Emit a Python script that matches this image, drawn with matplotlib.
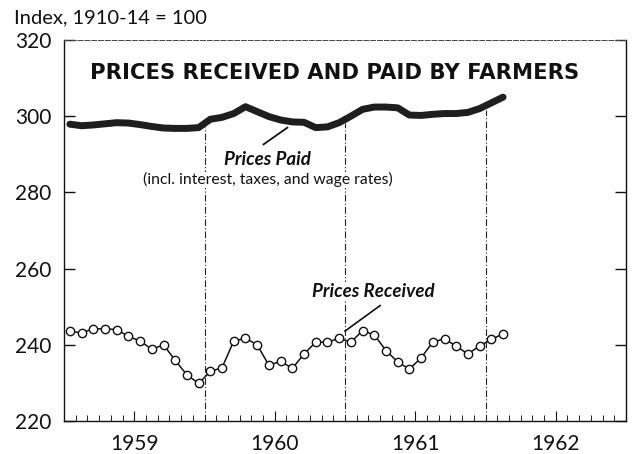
import numpy as np
import matplotlib
matplotlib.use("Agg")
import matplotlib.pyplot as plt
from matplotlib.ticker import FixedLocator

# ---- data (monthly, Jan 1959 - Feb 1962) ----
start_year = 1959
prices_paid = [297.9, 297.5, 297.7, 298.0, 298.3, 298.2, 297.8, 297.3, 296.9, 296.8, 296.8, 297.0,
               299.2, 299.7, 300.7, 302.5, 301.2, 299.9, 299.0, 298.5, 298.4, 297.0, 297.2, 298.3,
               300.0, 301.8, 302.4, 302.4, 302.2, 300.3, 300.2, 300.5, 300.7, 300.7, 301.0, 302.0,
               303.5, 305.0]
prices_received = [243.6, 243.1, 244.2, 244.2, 244.0, 242.2, 241.0, 238.8, 240.0, 235.9, 232.1, 229.9,
                   233.0, 234.0, 241.0, 241.7, 240.0, 234.6, 235.7, 233.8, 237.6, 240.7, 240.7, 241.7,
                   240.7, 243.7, 242.6, 238.5, 235.5, 233.6, 236.6, 240.7, 241.6, 239.6, 237.6, 239.7,
                   241.4, 242.9]
years = [1959, 1960, 1961, 1962]
y_ticks = [220, 240, 260, 280, 300, 320]

t_paid = start_year + (np.arange(len(prices_paid)) + 0.5) / 12
t_recv = start_year + (np.arange(len(prices_received)) + 0.5) / 12

plt.rcParams['font.family'] = ['Lato', 'DejaVu Sans']

fig = plt.figure(figsize=(6.34, 4.54), dpi=100)
ax = fig.add_axes([64/634, 1 - 421/454, (626-64)/634, (421-40)/454])

ax.set_xlim(years[0], years[-1] + 1)
ax.set_ylim(220, 320)

# year boundary dash-dot lines
for b in years[1:]:
    top = np.interp(b, t_paid, prices_paid) - 1.0
    ax.vlines(b, 220, top, colors='#222222', linestyles=(0, (6, 2, 1, 2)), linewidth=0.8, zorder=1)

# prices paid - heavy line
ax.plot(t_paid, prices_paid, color='#1e1e1e', linewidth=5.0, solid_capstyle='round',
        solid_joinstyle='round', zorder=3)

# prices received - open circles
ax.plot(t_recv, prices_received, color='#111111', linewidth=1.1, marker='o', markersize=6,
        markerfacecolor='white', markeredgecolor='#111111', markeredgewidth=1.0, zorder=3)

# spines
for s in ['left', 'right', 'bottom']:
    ax.spines[s].set_linewidth(1.0)
    ax.spines[s].set_color('#111111')
ax.spines['top'].set_linestyle((0, (5, 2)))
ax.spines['top'].set_linewidth(0.7)
ax.spines['top'].set_color('#444444')

# y ticks
ax.set_yticks(y_ticks)
ax.set_yticklabels([str(v) for v in y_ticks])
ax.tick_params(axis='y', direction='in', length=8, width=1, right=True, left=True,
               labelsize=15, pad=9, colors='#111111')

# x ticks: month minor, mid-year major with year labels
ax.xaxis.set_minor_locator(FixedLocator(start_year + np.arange(1, 48) / 12))
ax.set_xticks([y + 0.5 for y in years])
ax.set_xticklabels([str(y) for y in years])
ax.tick_params(axis='x', which='major', direction='in', length=7, width=0.8,
               labelsize=15, pad=9, colors='#111111')
ax.tick_params(axis='x', which='minor', direction='in', length=4, width=0.7, colors='#222222')

# texts
fig.text(14/634, 1 - 18/454, "Index, 1910-14 = 100", fontsize=14.5, ha='left', va='center',
         color='#111111')
fig.text(335/634, 1 - 73/454, "PRICES RECEIVED AND PAID BY FARMERS",
         ha='center', va='center', fontsize=15.2, fontweight='bold', color='#111111',
         family='DejaVu Sans')

ax.text(1960.45, 288.7, "Prices Paid", ha='center', va='center', fontsize=13.5,
        fontweight='bold', style='italic', color='#111111', zorder=4,
        bbox=dict(facecolor='white', edgecolor='none', pad=0.5))
ax.text(1960.45, 283.3, "(incl. interest, taxes, and wage rates)", ha='center', va='center',
        fontsize=11.3, color='#111111', zorder=4,
        bbox=dict(facecolor='white', edgecolor='none', pad=0.5))
ax.plot([1960.42, 1960.59], [292.6, 297.0], color='#111111', lw=1.3, zorder=2)

ax.text(1961.2, 254.0, "Prices Received", ha='center', va='center', fontsize=13.5,
        fontweight='bold', style='italic', color='#111111', zorder=4,
        bbox=dict(facecolor='white', edgecolor='none', pad=0.5))
ax.plot([1961.0, 1961.25], [243.6, 250.3], color='#111111', lw=1.2, zorder=2)

fig.savefig("out.png", dpi=100, facecolor='white')
